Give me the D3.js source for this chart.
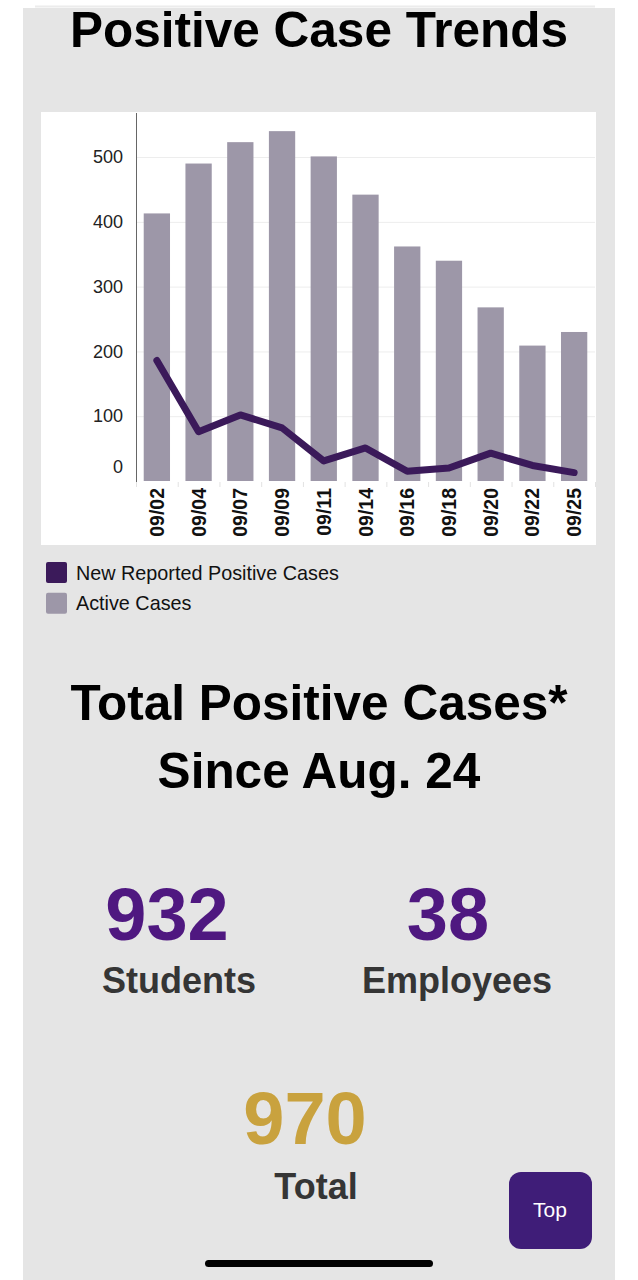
<!DOCTYPE html>
<html>
<head>
<meta charset="utf-8">
<script src="https://cdn.jsdelivr.net/npm/d3@7"></script>
<style>
  body { margin: 0; background: #fff; }
  svg { display: block; font-family: "Liberation Sans", Arial, sans-serif; }
</style>
</head>
<body>
<svg width="638" height="1280"></svg>
<script>
var dates = ["09/02", "09/04", "09/07", "09/09", "09/11", "09/14", "09/16", "09/18", "09/20", "09/22", "09/25"]
var activeCases = [413, 490, 523, 540, 501, 442, 362, 340, 268, 209, 230]
var newCases = [186, 76, 102, 82, 31, 51, 15, 20, 43, 24, 13]
var yTicks = [0, 100, 200, 300, 400, 500]
var legendItems = ["New Reported Positive Cases", "Active Cases"]

var studentCount = 932
var employeeCount = 38
var totalCount = 970

var barColor = "#9d97a8"
var lineColor = "#3b1a5a"
var purple = "#4f1880"
var gold = "#c9a23e"

var svg = d3.select("svg");

// page background
svg.append("rect").attr("x", 23).attr("y", 8).attr("width", 592).attr("height", 1272).attr("fill", "#e5e5e5");
svg.append("line").attr("x1", 35).attr("x2", 595).attr("y1", 6.5).attr("y2", 6.5)
    .attr("stroke", "#ececec").attr("stroke-width", 2);

svg.append("text")
    .attr("x", 319).attr("y", 47)
    .attr("text-anchor", "middle")
    .attr("font-size", 49.5).attr("font-weight", "bold")
    .text("Positive Case Trends");

// chart box
svg.append("rect").attr("x", 41).attr("y", 112).attr("width", 555).attr("height", 433).attr("fill", "#fff");

var xScale = d3.scaleBand().domain(dates).range([136, 595]).paddingInner(0.37).paddingOuter(0.185);
var yScale = d3.scaleLinear().domain([0, 568]).range([481, 113]);

var grid = svg.append("g");
grid.selectAll("line").data(yTicks.slice(1)).enter().append("line")
    .attr("x1", 136).attr("x2", 595)
    .attr("y1", d => yScale(d) + 0.5).attr("y2", d => yScale(d) + 0.5)
    .attr("stroke", "#ededed");

svg.append("g").selectAll("rect").data(activeCases).enter().append("rect")
    .attr("x", (d, i) => xScale(dates[i]))
    .attr("width", xScale.bandwidth())
    .attr("y", d => yScale(d))
    .attr("height", d => yScale(0) - yScale(d))
    .attr("fill", barColor);

var line = d3.line()
    .x((d, i) => xScale(dates[i]) + xScale.bandwidth() / 2)
    .y(d => yScale(d));

svg.append("path")
    .attr("d", line(newCases))
    .attr("fill", "none")
    .attr("stroke", lineColor)
    .attr("stroke-width", 7)
    .attr("stroke-linejoin", "round")
    .attr("stroke-linecap", "round");

// y axis
var yAxis = d3.axisLeft(yScale).tickValues(yTicks).tickSize(0).tickPadding(13);
var yg = svg.append("g").attr("transform", "translate(136,0)").call(yAxis);
yg.select(".domain").remove();
yg.selectAll("text").attr("font-size", 18).attr("fill", "#222").attr("font-family", null)
    .attr("dy", d => d == 0 ? "-0.45em" : "0.32em");
svg.append("line").attr("x1", 136.5).attr("x2", 136.5).attr("y1", 113).attr("y2", 483)
    .attr("stroke", "#666");

// x axis, ticks between categories
var xg = svg.append("g");
xg.selectAll("line").data(dates.concat(["end"])).enter().append("line")
    .attr("x1", (d, i) => 136 + i * xScale.step() + 0.5)
    .attr("x2", (d, i) => 136 + i * xScale.step() + 0.5)
    .attr("y1", 482).attr("y2", 487)
    .attr("stroke", "#e2e2e2");
xg.selectAll("text").data(dates).enter().append("text")
    .attr("transform", d => "translate(" + (xScale(d) + xScale.bandwidth() / 2 + 7) + ",488) rotate(-90)")
    .attr("text-anchor", "end")
    .attr("font-size", 19.5).attr("font-weight", "bold").attr("fill", "#111")
    .text(d => d);

// legend
var legend = svg.append("g");
legendItems.forEach(function(value, index) {
    var y = 562 + index * 30.7;
    legend.append("rect").attr("x", 46).attr("y", y).attr("width", 21).attr("height", 21)
        .attr("rx", 2).attr("fill", index == 0 ? lineColor : barColor);
    legend.append("text").attr("x", 76).attr("y", y + 17.5)
        .attr("font-size", 19.8).attr("fill", "#111").text(value);
});

// totals
svg.append("text").attr("x", 319).attr("y", 720).attr("text-anchor", "middle")
    .attr("font-size", 49.5).attr("font-weight", "bold").text("Total Positive Cases*");
svg.append("text").attr("x", 319).attr("y", 788).attr("text-anchor", "middle")
    .attr("font-size", 49.5).attr("font-weight", "bold").text("Since Aug. 24");

function stat(x, y, value, color, size) {
    svg.append("text").attr("x", x).attr("y", y).attr("text-anchor", "middle")
        .attr("font-size", size).attr("font-weight", "bold").attr("fill", color).text(value);
}
stat(167, 940, studentCount, purple, 74);
stat(448, 940, employeeCount, purple, 74);
stat(179, 993, "Students", "#353535", 36);
stat(457, 993, "Employees", "#353535", 36);
stat(305, 1144, totalCount, gold, 74);
stat(316, 1199, "Total", "#353535", 36);

// top button
svg.append("rect").attr("x", 509).attr("y", 1172).attr("width", 83).attr("height", 77)
    .attr("rx", 12).attr("fill", "#3f1d78");
svg.append("text").attr("x", 550).attr("y", 1217).attr("text-anchor", "middle")
    .attr("font-size", 21).attr("fill", "#fff").text("Top");

// home indicator
svg.append("rect").attr("x", 205).attr("y", 1260).attr("width", 228).attr("height", 7)
    .attr("rx", 3.5).attr("fill", "#000");
</script>
</body>
</html>
